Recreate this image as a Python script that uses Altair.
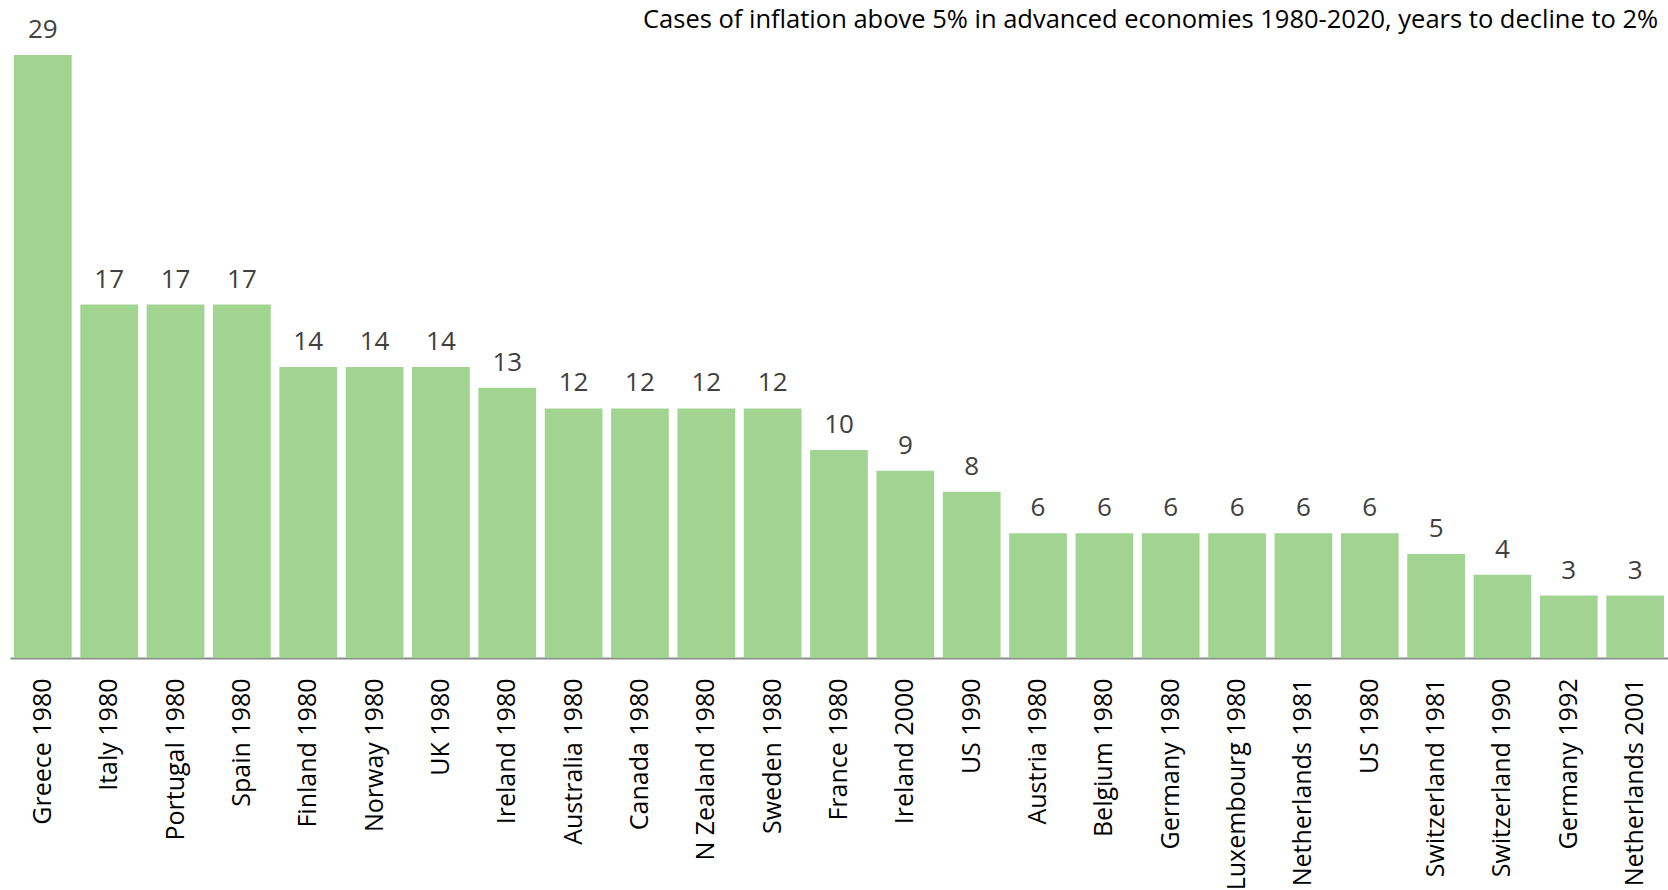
import altair as alt
import pandas as pd

categories = ["Greece 1980", "Italy 1980", "Portugal 1980", "Spain 1980", "Finland 1980",
              "Norway 1980", "UK 1980", "Ireland 1980", "Australia 1980", "Canada 1980",
              "N Zealand 1980", "Sweden 1980", "France 1980", "Ireland 2000", "US 1990",
              "Austria 1980", "Belgium 1980", "Germany 1980", "Luxembourg 1980",
              "Netherlands 1981", "US 1980", "Switzerland 1981", "Switzerland 1990",
              "Germany 1992", "Netherlands 2001"]
years = [29, 17, 17, 17, 14, 14, 14, 13, 12, 12, 12, 12, 10, 9, 8, 6, 6, 6, 6, 6, 6, 5, 4, 3, 3]
title_text = ["Cases of inflation above 5% in advanced economies 1980-2020, years to decline to 2%"]

df = pd.DataFrame({"case": categories, "years": years})
tdf = pd.DataFrame({"t": title_text})

FONT = "Open Sans"

x = alt.X("case:N", sort=categories, title=None,
          scale=alt.Scale(paddingInner=0.13, paddingOuter=0.06),
          axis=alt.Axis(labelAngle=-90, labelFontSize=25, labelColor="#000000",
                        labelFont=FONT, ticks=False, domainColor="#8c8c8c",
                        domainWidth=2, labelPadding=20, labelAlign="right",
                        labelBaseline="middle", labelLimit=300))
y = alt.Y("years:Q", title=None, scale=alt.Scale(domain=[0, 29], nice=False),
          axis=None)

bars = alt.Chart(df).mark_bar(color="#a1d490").encode(x=x, y=y)
labels = alt.Chart(df).mark_text(font=FONT, fontSize=26, color="#404040",
                                 baseline="alphabetic", dy=-17).encode(
    x=x, y=y, text="years:Q")
title = alt.Chart(tdf).mark_text(font=FONT, fontSize=25.5, color="#000000",
                                 align="left", baseline="alphabetic").encode(
    x=alt.value(633), y=alt.value(-27), text="t:N")

chart = alt.layer(bars, labels, title).properties(
    width=1658, height=603,
    autosize=alt.AutoSizeParams(type="none"),
    padding={"left": 10, "top": 55, "right": 0, "bottom": 232},
).configure_view(stroke=None)

chart.save("out.html", embed_options={"renderer": "svg", "actions": False})
